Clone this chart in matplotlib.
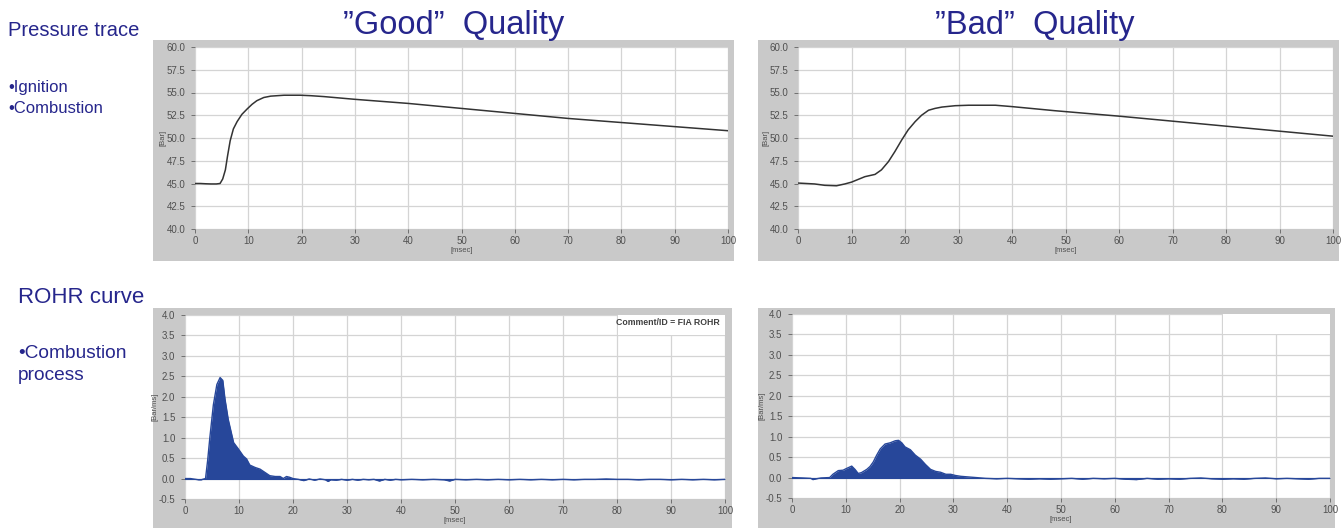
import matplotlib
matplotlib.use("Agg")
import matplotlib.pyplot as plt
from matplotlib.patches import Rectangle
import numpy as np

plt.rcParams['font.family'] = ['Liberation Sans', 'DejaVu Sans']

# ---------------- data ----------------
good_p_t = [0, 1, 2, 3, 4, 4.7, 5.2, 5.7, 6.1, 6.6, 7.2, 7.9, 8.8, 9.8, 10.7, 11.6, 12.9,
            14.2, 16.7, 19.8, 21.7, 24.2, 30, 40, 50, 60, 70, 80, 90, 100]
good_p_v = [45.0, 45.0, 44.97, 44.95, 44.95, 45.0, 45.5, 46.5, 48.0, 49.7, 51.0, 51.8, 52.6,
            53.2, 53.7, 54.1, 54.45, 54.6, 54.7, 54.7, 54.65, 54.55, 54.25, 53.8, 53.25,
            52.7, 52.15, 51.7, 51.25, 50.8]

bad_p_t = [0, 3.1, 5, 7.2, 8.75, 10, 11.25, 12.5, 14.4, 15.6, 16.9, 18.1, 19.4, 20.6, 21.9,
           23.1, 24.4, 25.6, 26.9, 29.4, 31.9, 36.9, 40, 48, 50, 60, 70, 80, 90, 100]
bad_p_v = [45.05, 44.95, 44.8, 44.75, 44.95, 45.15, 45.45, 45.75, 46.0, 46.5, 47.4, 48.5,
           49.8, 50.9, 51.8, 52.5, 53.05, 53.25, 53.4, 53.55, 53.6, 53.6, 53.45, 53.0,
           52.9, 52.4, 51.85, 51.3, 50.75, 50.2]

good_r_t = [0, 1, 2, 2.5, 3, 3.5, 3.8, 4.2, 4.6, 5.25, 5.9, 6.5, 7.0, 7.4, 8.0, 9.0, 9.9,
            10.8, 11.4, 12.0, 13.0, 13.9, 14.8, 15.7, 16.7, 17.6, 18.2, 18.8, 19.4, 20.0,
            21, 22, 23, 24, 25, 26, 26.5, 27, 28, 29, 30, 31, 32, 33, 34, 35, 36, 37, 38,
            39, 40, 42, 44, 46, 48, 49, 50, 52, 54, 56, 58, 60, 62, 64, 66, 68, 70, 72,
            74, 76, 78, 80, 82, 84, 86, 88, 90, 92, 94, 96, 98, 100]
good_r_v = [0.0, 0.0, -0.02, -0.03, -0.03, -0.01, 0.0, 0.45, 1.0, 1.8, 2.3, 2.47, 2.4, 1.95,
            1.45, 0.88, 0.72, 0.55, 0.48, 0.33, 0.27, 0.23, 0.15, 0.07, 0.05, 0.05, 0.0,
            0.05, 0.03, 0.0,
            -0.02, -0.05, -0.01, -0.04, -0.01, -0.03, -0.07, -0.03, -0.04, -0.02, -0.04,
            -0.02, -0.04, -0.02, -0.03, -0.02, -0.06, -0.02, -0.04, -0.02, -0.03, -0.02,
            -0.03, -0.02, -0.03, -0.06, -0.02, -0.03, -0.02, -0.03, -0.02, -0.03, -0.02,
            -0.03, -0.02, -0.03, -0.02, -0.03, -0.02, -0.02, -0.01, -0.02, -0.02, -0.03,
            -0.02, -0.02, -0.03, -0.02, -0.03, -0.02, -0.03, -0.02]

bad_r_t = [0, 2, 3.5, 3.9, 4.5, 5.4, 7.0, 7.6, 8.6, 9.5, 10.1, 11.1, 11.7, 12.3, 12.9, 13.9,
           14.5, 15.1, 15.75, 16.4, 17.3, 18.25, 19.2, 19.8, 20.4, 21.0, 22.0, 22.9, 23.9,
           24.8, 25.75, 26.7, 27.6, 28.6, 29.5, 30.4, 31.4, 32.3, 34.2, 36, 38, 40, 42,
           44, 46, 48, 50, 52, 54, 56, 58, 60, 62, 64, 66, 68, 70, 72, 74, 76, 78, 80,
           82, 84, 86, 88, 90, 92, 94, 96, 98, 100]
bad_r_v = [0.0, -0.01, -0.02, -0.05, -0.03, -0.01, 0.0, 0.08, 0.17, 0.18, 0.22, 0.28, 0.2,
           0.1, 0.12, 0.2, 0.27, 0.38, 0.55, 0.7, 0.82, 0.85, 0.9, 0.91, 0.85, 0.75, 0.68,
           0.55, 0.45, 0.32, 0.2, 0.15, 0.13, 0.08, 0.08, 0.05, 0.03, 0.02, 0.0, -0.02,
           -0.03, -0.02, -0.03, -0.04, -0.03, -0.04, -0.03, -0.02, -0.04, -0.02, -0.03,
           -0.02, -0.04, -0.05, -0.02, -0.04, -0.03, -0.04, -0.02, -0.01, -0.03, -0.04,
           -0.03, -0.04, -0.02, -0.01, -0.03, -0.02, -0.03, -0.04, -0.02, -0.02]

x_ticks = [0, 10, 20, 30, 40, 50, 60, 70, 80, 90, 100]
p_ticks = [40.0, 42.5, 45.0, 47.5, 50.0, 52.5, 55.0, 57.5, 60.0]
r_ticks = [-0.5, 0.0, 0.5, 1.0, 1.5, 2.0, 2.5, 3.0, 3.5, 4.0]

# ---------------- figure ----------------
W, H = 1343, 528
fig = plt.figure(figsize=(W / 100, H / 100), dpi=100)
fig.patch.set_facecolor('white')

NAVY = '#26268c'
FRAME = '#c9c9c9'
GRID = '#d4d4d4'
FILL = '#27479a'


def px_rect(x0, y0, x1, y1):
    return [x0 / W, 1 - y1 / H, (x1 - x0) / W, (y1 - y0) / H]


# gray frames (background axes)
for (x0, y0, x1, y1) in [(153, 40, 734, 261), (758, 40, 1339, 261),
                         (153, 308, 732, 528), (758, 308, 1335, 528)]:
    bg = fig.add_axes(px_rect(x0, y0, x1, y1), zorder=-5)
    bg.set_facecolor(FRAME)
    bg.set_xticks([])
    bg.set_yticks([])
    for s in bg.spines.values():
        s.set_visible(False)


def style(ax, yticks, ylab, yfmt):
    ax.set_facecolor('white')
    ax.set_xlim(0, 100)
    ax.set_ylim(yticks[0], yticks[-1])
    ax.set_xticks(x_ticks)
    ax.set_yticks(yticks)
    ax.set_yticklabels([yfmt.format(v) for v in yticks])
    ax.grid(True, color=GRID, linewidth=0.9)
    ax.set_axisbelow(True)
    for s in ax.spines.values():
        s.set_visible(False)
    ax.tick_params(axis='both', labelsize=7, labelcolor='#505050', color='#707070',
                   length=3, width=0.7, pad=2)
    ax.tick_params(axis='y', pad=4)
    ax.set_xlabel('[msec]', fontsize=5.5, color='#505050', labelpad=1)
    ax.set_ylabel(ylab, fontsize=5.5, color='#505050', labelpad=0)


# top axes (pressure)
ax1 = fig.add_axes(px_rect(195, 47, 728, 229))
style(ax1, p_ticks, '[Bar]', '{:.1f}')
ax1.plot(good_p_t, good_p_v, color='#333333', linewidth=1.1)

ax2 = fig.add_axes(px_rect(798, 47, 1333, 229))
style(ax2, p_ticks, '[Bar]', '{:.1f}')
ax2.plot(bad_p_t, bad_p_v, color='#333333', linewidth=1.1)

# bottom axes (ROHR)
ax3 = fig.add_axes(px_rect(185, 315, 725, 499))
style(ax3, r_ticks, '[Bar/ms]', '{:.1f}')
ax3.fill_between(good_r_t, good_r_v, 0, color=FILL, linewidth=0)
ax3.plot(good_r_t, good_r_v, color=FILL, linewidth=1.0)
ax3.axhline(0, color=FILL, linewidth=0.8)

ax4 = fig.add_axes(px_rect(792, 314, 1330, 498))
style(ax4, r_ticks, '[Bar/ms]', '{:.1f}')
ax4.fill_between(bad_r_t, bad_r_v, 0, color=FILL, linewidth=0)
ax4.plot(bad_r_t, bad_r_v, color=FILL, linewidth=1.0)
ax4.axhline(0, color=FILL, linewidth=0.8)

# comment-box masks (grid interrupted in upper right)
for ax in (ax3, ax4):
    ax.add_patch(Rectangle((80.2, 3.52), 19.8, 0.48, facecolor='white', edgecolor='none',
                           zorder=1.5))
ax3.text(99, 3.93, 'Comment/ID = FIA ROHR', fontsize=6.3, fontweight='bold',
         color='#404040', ha='right', va='top', zorder=3)

# slide texts
fig.text(8 / W, 1 - 36 / H, 'Pressure trace', fontsize=14.5, color=NAVY, ha='left',
         va='baseline')
fig.text(8 / W, 1 - 92 / H, '\u2022Ignition', fontsize=12, color=NAVY, ha='left',
         va='baseline')
fig.text(8 / W, 1 - 113 / H, '\u2022Combustion', fontsize=12, color=NAVY, ha='left',
         va='baseline')
fig.text(18 / W, 1 - 303 / H, 'ROHR curve', fontsize=16, color=NAVY, ha='left',
         va='baseline')
fig.text(18 / W, 1 - 358 / H, '\u2022Combustion', fontsize=13.8, color=NAVY, ha='left',
         va='baseline')
fig.text(18 / W, 1 - 380 / H, 'process', fontsize=13.8, color=NAVY, ha='left',
         va='baseline')

fig.text(454 / W, 1 - 34 / H, '\u201dGood\u201d  Quality', fontsize=23.5, color=NAVY,
         ha='center', va='baseline')
fig.text(1035 / W, 1 - 34 / H, '\u201dBad\u201d  Quality', fontsize=23.5, color=NAVY,
         ha='center', va='baseline')

fig.savefig('out.png', dpi=100, facecolor='white')
